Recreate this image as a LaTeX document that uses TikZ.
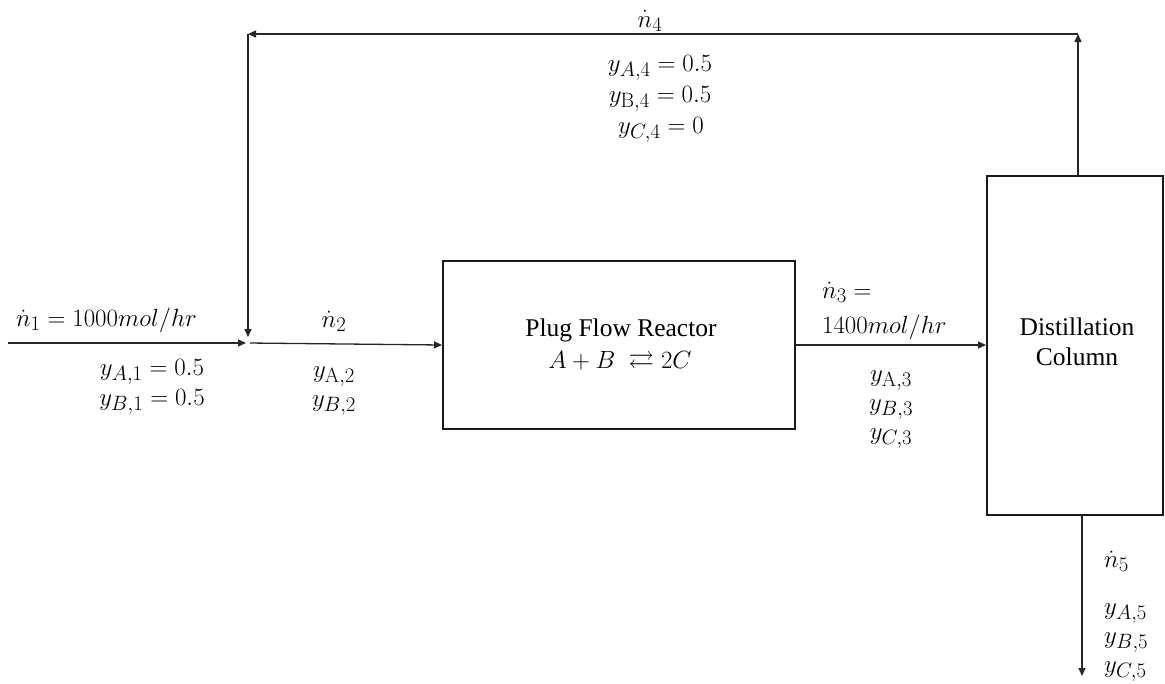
\documentclass[tikz,border=0pt]{standalone}
\usepackage{amsmath,amssymb}
\usepackage[no-math]{fontspec}
\setmainfont{Liberation Serif}
\usetikzlibrary{arrows.meta,calc}
\tikzset{
  flow/.style={draw=black!85, line width=1.3pt, -{Triangle[length=8pt,width=7pt]}},
  unit/.style={draw=black!90, line width=2pt, fill=white},
  lbl/.style={inner sep=0pt, font=\fontsize{25.5}{30}\selectfont},
  mlbl/.style={inner sep=0pt, font=\fontsize{28.5}{33}\selectfont},
}
\begin{document}
\begin{tikzpicture}[x=1pt,y=-1pt]
\useasboundingbox (0,0) rectangle (1165,683);
% units
\node[unit, minimum width=352pt, minimum height=168pt, inner sep=0pt] (reac) at (619,345) {};
\node[unit, minimum width=176pt, minimum height=339pt, inner sep=0pt] (col) at (1075,345.5) {};
% points
\coordinate (feed) at (8,343);
\coordinate (mix) at (248,343);
\coordinate (tl) at (248,34);
\coordinate (tr) at (1078,34);
\coordinate (ctop) at (1078,176);
\coordinate (cbot) at (1082,515);
\coordinate (out) at (1082,676);
% connectors
\draw[flow, shorten >=2pt] (feed) -- (mix);
\draw[flow, shorten <=2pt] (mix) -- (reac.west);
\draw[flow] (reac.east) -- (reac.east -| col.west);
\draw[flow] (ctop) -- (tr);
\draw[flow] (tr) -- (tl);
\draw[flow, shorten >=6pt] (tl) -- (mix);
\draw[flow] (cbot) -- (out);
% labels: reactor and column
\node[lbl, anchor=base] (rt1) at (621,336) {Plug Flow Reactor};
\node[lbl, anchor=base] (rt2) at (620,368) {$A + B\ \rightleftarrows 2C$};
\node[lbl, anchor=base] (ct1) at (1077,335) {Distillation};
\node[lbl, anchor=base] (ct2) at (1077,365) {Column};
% stream 1
\node[mlbl, anchor=base west] (s1a) at (16,326) {$\dot{n}_1 = 1000mol/hr$};
\node[mlbl, anchor=base] (s1b) at (152,375) {$y_{A,1} = 0.5$};
\node[mlbl, anchor=base] (s1c) at (152,405) {$y_{B,1} = 0.5$};
% stream 2
\node[mlbl, anchor=base] (s2a) at (334,327) {$\dot{n}_2$};
\node[mlbl, anchor=base] (s2b) at (334,377) {$y_{\mathrm{A},2}$};
\node[mlbl, anchor=base] (s2c) at (334,406) {$y_{B,2}$};
% stream 3
\node[mlbl, anchor=base west] (s3a) at (822,298) {$\dot{n}_3 =$};
\node[mlbl, anchor=base west] (s3b) at (822,333) {$1400mol/hr$};
\node[mlbl, anchor=base] (s3c) at (891,381) {$y_{\mathrm{A},3}$};
\node[mlbl, anchor=base] (s3d) at (891,410) {$y_{B,3}$};
\node[mlbl, anchor=base] (s3e) at (891,439) {$y_{C,3}$};
% stream 4
\node[mlbl, anchor=base] (s4a) at (650,27) {$\dot{n}_4$};
\node[mlbl, anchor=base] (s4b) at (660,71) {$y_{A,4} = 0.5$};
\node[mlbl, anchor=base] (s4c) at (660,102) {$y_{\mathrm{B},4} = 0.5$};
\node[mlbl, anchor=base] (s4d) at (661,133) {$y_{C,4} = 0$};
% stream 5
\node[mlbl, anchor=base west] (s5a) at (1104,567) {$\dot{n}_5$};
\node[mlbl, anchor=base west] (s5b) at (1104,614) {$y_{A,5}$};
\node[mlbl, anchor=base west] (s5c) at (1104,643) {$y_{B,5}$};
\node[mlbl, anchor=base west] (s5d) at (1104,672) {$y_{C,5}$};
\end{tikzpicture}
\end{document}
